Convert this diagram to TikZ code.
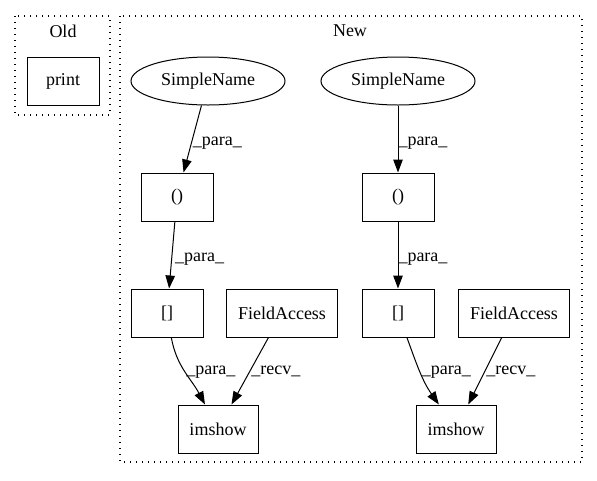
\documentclass[tikz,border=0pt]{standalone}
\usepackage{fontspec}
\setmainfont{Liberation Serif}
\usetikzlibrary{shapes.geometric, positioning, arrows.meta}
\tikzset{
  op/.style={
    rectangle,
    draw=black, line width=1pt,
    minimum width=72pt,
    minimum height=48pt,
    inner sep=2pt,
    font=\fontsize{18}{20}\selectfont
  },
  leaf/.style={
    ellipse,
    draw=black, line width=1pt,
    minimum width=154pt,
    minimum height=48pt,
    inner sep=2pt,
    font=\fontsize{18}{20}\selectfont
  },
  cluster/.style={
    draw=black,
    line width=1.2pt,
    dash pattern=on 1.4pt off 4.6pt
  },
  title/.style={font=\fontsize{18}{20}\selectfont},
  arrow/.style={
    draw=black,
    line width=1pt,
    -{Triangle[length=13pt,width=9.5pt]}
  },
  elabel/.style={font=\fontsize{18}{20}\selectfont, anchor=west, inner sep=1pt}
}

\begin{document}
\begin{tikzpicture}[x=1pt, y=-1pt]
\useasboundingbox (0,0) rectangle (597,480);

% clusters
\draw [cluster] (15,16) rectangle (110,115);
\node[title] (old) at (63,31) {Old};
\draw [cluster] (120,16) rectangle (582,462);
\node[title] (new) at (350,31) {New};

% nodes
\node[op] (print) at (63,81) {print};

\node[leaf] (sn1) at (208,81) {SimpleName};
\node[op] (call1) at (177,197) {()};
\node[op] (arr1) at (167,313) {[]};
\node[op, minimum width=111pt] (fa1) at (282,313) {FieldAccess};
\node[op, minimum width=80pt] (im1) at (218,429) {imshow};

\node[leaf] (sn2) at (398,81) {SimpleName};
\node[op] (call2) at (398,197) {()};
\node[op] (arr2) at (398,313) {[]};
\node[op, minimum width=111pt] (fa2) at (514,313) {FieldAccess};
\node[op, minimum width=80pt] (im2) at (456,429) {imshow};

% edges
%% left
\draw [arrow] (sn1) -- node[elabel, pos=0.56]{\_para\_} (call1);
\draw [arrow] (call1) -- node[elabel, pos=0.56, xshift=2pt]{\_para\_} (arr1);
\draw [arrow] (arr1) to[out=-80, in=118] node[elabel, pos=0.5]{\_para\_} (im1);
\draw [arrow] (fa1) -- node[elabel, pos=0.5]{\_recv\_} (im1);

%% right
\draw [arrow] (sn2) -- node[elabel, pos=0.56, inner sep=0pt]{\_para\_} (call2);
\draw [arrow] (call2) -- node[elabel, pos=0.56, inner sep=0pt]{\_para\_} (arr2);
\draw [arrow] (arr2) to[out=-70, in=125] node[elabel, pos=0.5]{\_para\_} (im2);
\draw [arrow] (fa2) -- node[elabel, pos=0.5]{\_recv\_} (im2);

\end{tikzpicture}
\end{document}
